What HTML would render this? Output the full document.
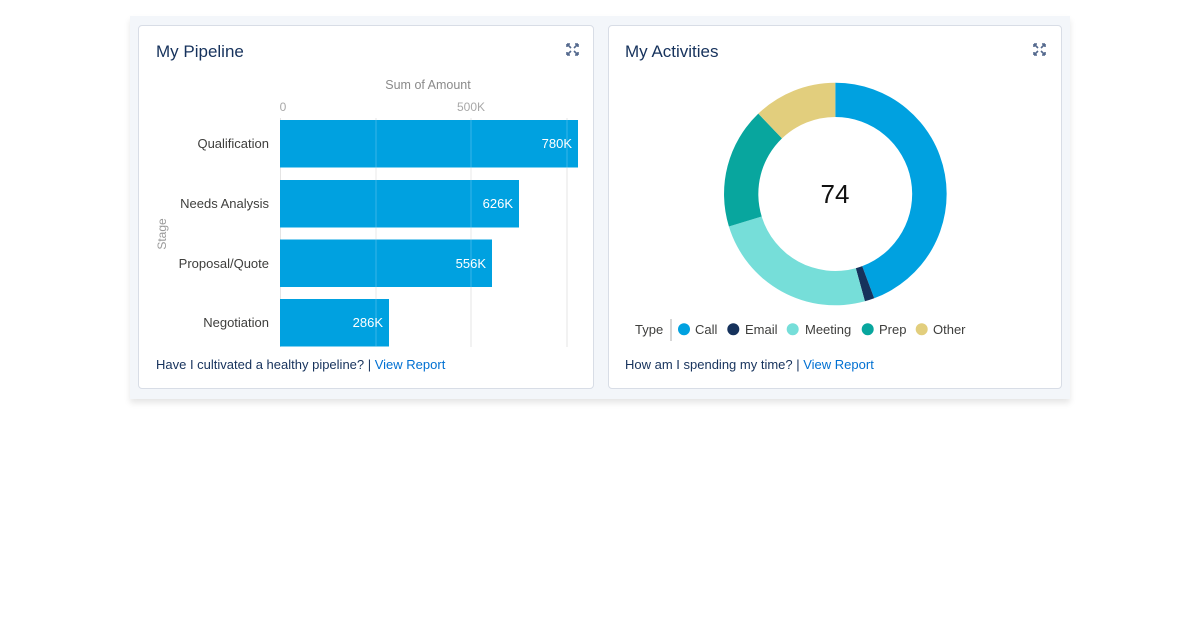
<!DOCTYPE html>
<html><head><meta charset="utf-8"><style>
html,body{margin:0;padding:0;background:#fff;width:1200px;height:640px;overflow:hidden;font-family:"Liberation Sans",sans-serif;}
.wrap{position:absolute;left:130px;top:16px;width:940px;height:383px;background:#f3f6fa;box-shadow:0 4px 6px rgba(0,0,0,0.10);}
.card{position:absolute;top:9px;height:364px;background:#fff;border:1px solid #d8dde6;border-radius:4px;box-sizing:border-box;}
</style></head><body>
<div class="wrap">
<div class="card" style="left:8px;width:456px;"></div>
<div class="card" style="left:478px;width:454px;"></div>
</div>
<svg width="1200" height="640" style="position:absolute;left:0;top:0" xmlns="http://www.w3.org/2000/svg" font-family="Liberation Sans, sans-serif">
<!-- Card 1 -->
<text x="156" y="57" font-size="17" fill="#16325c">My Pipeline</text>
<g stroke="#54698d" stroke-width="1.6" fill="none">
<path d="M567 44 L571 48 M567 44 h3 M567 44 v3"/>
<path d="M578 44 L574 48 M578 44 h-3 M578 44 v3"/>
<path d="M567 55 L571 51 M567 55 h3 M567 55 v-3"/>
<path d="M578 55 L574 51 M578 55 h-3 M578 55 v-3"/>
</g>
<text x="428" y="89" font-size="12.5" fill="#8a8a8a" text-anchor="middle">Sum of Amount</text>
<text x="283" y="111" font-size="12" fill="#a8a8a8" text-anchor="middle">0</text>
<text x="471" y="111" font-size="12" fill="#a8a8a8" text-anchor="middle">500K</text>
<g stroke="#e4e4e4" stroke-width="1">
<line x1="280.5" y1="118" x2="280.5" y2="347"/>
<line x1="376" y1="118" x2="376" y2="347"/>
<line x1="471" y1="118" x2="471" y2="347"/>
<line x1="567" y1="118" x2="567" y2="347"/>
</g>
<g fill="#00a1e0">
<rect x="280" y="120" width="298" height="47.5"/>
<rect x="280" y="180" width="239" height="47.5"/>
<rect x="280" y="239.5" width="212" height="47.5"/>
<rect x="280" y="299" width="109" height="47.5"/>
</g>
<g stroke="rgba(255,255,255,0.22)" stroke-width="1">
<line x1="376" y1="120" x2="376" y2="347"/>
<line x1="471" y1="120" x2="471" y2="287"/>
<line x1="567" y1="120" x2="567" y2="168"/>
</g>
<g font-size="13" fill="#fff" text-anchor="end">
<text x="572" y="148">780K</text>
<text x="513" y="208">626K</text>
<text x="486" y="268">556K</text>
<text x="383" y="327">286K</text>
</g>
<g font-size="13" fill="#3e3e3c" text-anchor="end">
<text x="269" y="148">Qualification</text>
<text x="269" y="208">Needs Analysis</text>
<text x="269" y="268">Proposal/Quote</text>
<text x="269" y="327">Negotiation</text>
</g>
<text transform="translate(166,234) rotate(-90)" font-size="12" fill="#9a9a9a" text-anchor="middle">Stage</text>
<text x="156" y="369" font-size="13" fill="#16325c">Have I cultivated a healthy pipeline? | <tspan fill="#0070d2">View Report</tspan></text>

<!-- Card 2 -->
<text x="625" y="57" font-size="17" fill="#16325c">My Activities</text>
<g stroke="#54698d" stroke-width="1.6" fill="none">
<path d="M1034 44 L1038 48 M1034 44 h3 M1034 44 v3"/>
<path d="M1045 44 L1041 48 M1045 44 h-3 M1045 44 v3"/>
<path d="M1034 55 L1038 51 M1034 55 h3 M1034 55 v-3"/>
<path d="M1045 55 L1041 51 M1045 55 h-3 M1045 55 v-3"/>
</g>
<g transform="translate(835.3,194)">
<!-- outer r=111.3, inner r=77 -->
<path d="M0,-111.3 A111.3,111.3 0 0 1 38.9,104.3 L26.9,72.1 A77,77 0 0 0 0,-77 Z" fill="#00a1e0"/>
<path d="M38.9,104.3 A111.3,111.3 0 0 1 29.6,107.3 L20.5,74.2 A77,77 0 0 0 26.9,72.1 Z" fill="#16325c"/>
<path d="M29.6,107.3 A111.3,111.3 0 0 1 -106.4,32.5 L-73.6,22.5 A77,77 0 0 0 20.5,74.2 Z" fill="#76ded9"/>
<path d="M-106.4,32.5 A111.3,111.3 0 0 1 -77.0,-80.4 L-53.3,-55.6 A77,77 0 0 0 -73.6,22.5 Z" fill="#08a69e"/>
<path d="M-77.0,-80.4 A111.3,111.3 0 0 1 0,-111.3 L0,-77 A77,77 0 0 0 -53.3,-55.6 Z" fill="#e2ce7d"/>
</g>
<text x="835" y="203" font-size="26" fill="#111" text-anchor="middle">74</text>
<g font-size="13" fill="#3e3e3c">
<text x="635" y="334">Type</text>
<line x1="671" y1="319" x2="671" y2="341" stroke="#c9c9c9" stroke-width="1.5"/>
<circle cx="684" cy="329.3" r="6" fill="#00a1e0"/>
<text x="695" y="334">Call</text>
<circle cx="733.3" cy="329.3" r="6" fill="#16325c"/>
<text x="745" y="334">Email</text>
<circle cx="792.7" cy="329.3" r="6" fill="#76ded9"/>
<text x="805" y="334">Meeting</text>
<circle cx="867.7" cy="329.3" r="6" fill="#08a69e"/>
<text x="879" y="334">Prep</text>
<circle cx="921.7" cy="329.3" r="6" fill="#e2ce7d"/>
<text x="933" y="334">Other</text>
</g>
<text x="625" y="369" font-size="13" fill="#16325c">How am I spending my time? | <tspan fill="#0070d2">View Report</tspan></text>
</svg>
</body></html>
